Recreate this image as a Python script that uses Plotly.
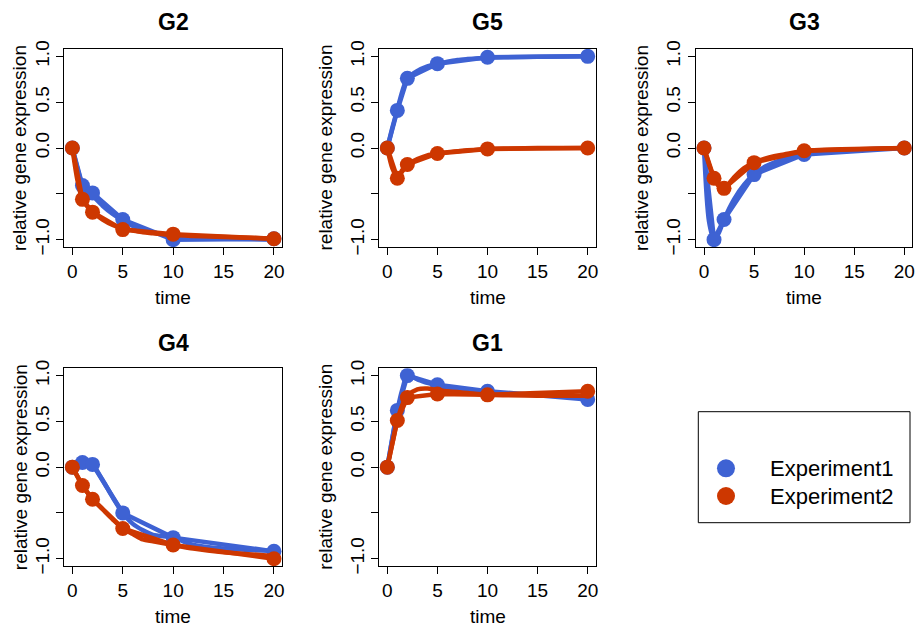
import plotly.graph_objects as go

# ---------------- data ----------------
time = [0, 1, 2, 5, 10, 20]
genes = ["G2", "G5", "G3", "G4", "G1"]
series_names = ["Experiment1", "Experiment2"]

g2_exp1 = [0.0, -0.41, -0.49, -0.78, -1.00, -0.99]
g2_exp2 = [0.0, -0.56, -0.70, -0.89, -0.94, -0.99]
g5_exp1 = [0.0, 0.41, 0.76, 0.92, 0.99, 1.00]
g5_exp2 = [0.0, -0.33, -0.18, -0.06, -0.01, 0.00]
g3_exp1 = [0.0, -1.00, -0.78, -0.29, -0.07, 0.00]
g3_exp2 = [0.0, -0.33, -0.44, -0.16, -0.03, 0.00]
g4_exp1 = [0.0, 0.05, 0.03, -0.50, -0.77, -0.92]
g4_exp2 = [0.0, -0.20, -0.35, -0.67, -0.85, -1.00]
g1_exp1 = [0.0, 0.62, 1.00, 0.90, 0.83, 0.74]
g1_exp2 = [0.0, 0.51, 0.76, 0.80, 0.79, 0.83]

# fitted (smooth) curves
fit_time = [0, 0.5, 1, 1.5, 2, 3, 4, 5, 6, 7, 8, 10, 12, 15, 20]
g2_fit1 = [0, -0.22, -0.40, -0.47, -0.52, -0.63, -0.72, -0.79, -0.85, -0.89, -0.92, -0.96, -0.98, -0.99, -1.00]
g2_fit2 = [0, -0.35, -0.56, -0.64, -0.70, -0.78, -0.84, -0.88, -0.90, -0.92, -0.93, -0.95, -0.96, -0.97, -0.99]
g5_fit1 = [0, 0.22, 0.42, 0.62, 0.76, 0.84, 0.89, 0.92, 0.94, 0.96, 0.97, 0.985, 0.99, 0.995, 1.00]
g5_fit2 = [0, -0.22, -0.32, -0.24, -0.18, -0.12, -0.08, -0.06, -0.045, -0.035, -0.025, -0.01, -0.005, 0, 0]
g3_fit1 = [0, -0.80, -1.00, -0.92, -0.78, -0.56, -0.40, -0.29, -0.21, -0.16, -0.12, -0.07, -0.04, -0.02, 0]
g3_fit2 = [0, -0.18, -0.33, -0.42, -0.44, -0.32, -0.22, -0.16, -0.12, -0.09, -0.07, -0.03, -0.02, -0.01, 0]
g4_fit1 = [0, 0.03, 0.05, 0.05, 0.03, -0.14, -0.33, -0.50, -0.62, -0.69, -0.74, -0.77, -0.85, -0.89, -0.915]
g4_fit2 = [0, -0.10, -0.20, -0.28, -0.35, -0.46, -0.57, -0.67, -0.73, -0.79, -0.81, -0.85, -0.89, -0.93, -0.97]
g1_fit1 = [0, 0.32, 0.62, 0.85, 1.00, 0.96, 0.92, 0.89, 0.86, 0.84, 0.83, 0.81, 0.80, 0.79, 0.77]
g1_fit2 = [0, 0.26, 0.51, 0.68, 0.78, 0.85, 0.86, 0.84, 0.83, 0.82, 0.81, 0.79, 0.785, 0.78, 0.78]

x_ticks = [0, 5, 10, 15, 20]
y_ticks = [-1.0, -0.5, 0.0, 0.5, 1.0]
y_tick_text = ["\u22121.0", "", "0.0", "0.5", "1.0"]

points = {
    "G2": (g2_exp1, g2_exp2), "G5": (g5_exp1, g5_exp2), "G3": (g3_exp1, g3_exp2),
    "G4": (g4_exp1, g4_exp2), "G1": (g1_exp1, g1_exp2),
}
fits = {
    "G2": (g2_fit1, g2_fit2), "G5": (g5_fit1, g5_fit2), "G3": (g3_fit1, g3_fit2),
    "G4": (g4_fit1, g4_fit2), "G1": (g1_fit1, g1_fit2),
}

# ---------------- style / layout ----------------
W, H = 916, 626
colors = ["#3E62D3", "#CD3700"]
FONT = "Liberation Sans, Arial, Helvetica, sans-serif"
col_px = [(64.3, 282.0), (379.3, 595.7), (696.0, 912.3)]
row_px = [(49.0, 247.0), (368.3, 566.0)]
ytitle_x = [20, 325.5, 642]
pos = {"G2": (0, 0), "G5": (0, 1), "G3": (0, 2), "G4": (1, 0), "G1": (1, 1)}

fig = go.Figure()
layout = dict(
    width=W, height=H, margin=dict(l=0, r=0, t=0, b=0, pad=0, autoexpand=False),
    paper_bgcolor="white", plot_bgcolor="white", showlegend=False,
    font=dict(family=FONT, size=19, color="black"),
)
annotations = []
shapes = []

for i, g in enumerate(genes):
    r, c = pos[g]
    n = i + 1
    xa = "x" if n == 1 else f"x{n}"
    ya = "y" if n == 1 else f"y{n}"
    x0, x1 = col_px[c]
    y0, y1 = row_px[r]
    axis_common = dict(showgrid=False, zeroline=False, showline=True, mirror=True,
                       linecolor="black", linewidth=1, ticks="outside", ticklen=7,
                       tickwidth=1, tickcolor="black", automargin=False,
                       tickfont=dict(family=FONT, size=19, color="black"))
    layout["xaxis" if n == 1 else f"xaxis{n}"] = dict(
        axis_common, domain=[x0 / W, x1 / W], range=[-0.8, 20.8],
        tickvals=x_ticks, ticktext=[str(v) for v in x_ticks],
        anchor=ya)
    layout["yaxis" if n == 1 else f"yaxis{n}"] = dict(
        axis_common, domain=[1 - y1 / H, 1 - y0 / H], range=[-1.08, 1.08],
        tickvals=y_ticks, ticktext=y_tick_text, tickangle=-90,
        anchor=xa)
    for k in range(2):
        col = colors[k]
        fig.add_trace(go.Scatter(x=fit_time, y=fits[g][k], mode="lines",
                                 line=dict(color=col, width=4.5, shape="spline", smoothing=0.8),
                                 xaxis=xa, yaxis=ya, hoverinfo="skip"))
        fig.add_trace(go.Scatter(x=time, y=points[g][k], mode="lines+markers",
                                 line=dict(color=col, width=4.5),
                                 marker=dict(color=col, size=15, line=dict(width=0)),
                                 name=series_names[k], xaxis=xa, yaxis=ya))
    cx = (x0 + x1) / 2
    title_y = 22.5 if r == 0 else 342.5
    annotations.append(dict(text=f"<b>{g}</b>", x=cx / W, y=1 - title_y / H, xref="paper", yref="paper",
                            showarrow=False, font=dict(family=FONT, size=23, color="black"),
                            xanchor="center", yanchor="middle"))
    annotations.append(dict(text="time", x=cx / W, y=1 - (y1 + 50) / H, xref="paper", yref="paper",
                            showarrow=False, font=dict(family=FONT, size=19, color="black"),
                            xanchor="center", yanchor="middle"))
    annotations.append(dict(text="relative gene expression", x=ytitle_x[c] / W, y=1 - ((y0 + y1) / 2) / H,
                            xref="paper", yref="paper", textangle=-90, showarrow=False,
                            font=dict(family=FONT, size=19, color="black"),
                            xanchor="center", yanchor="middle"))

# ---------------- legend (drawn manually, R style) ----------------
lx0, lx1, ly0, ly1 = 698.3, 910.0, 411.7, 522.7
shapes.append(dict(type="rect", xref="paper", yref="paper",
                   x0=lx0 / W, x1=lx1 / W, y0=1 - ly1 / H, y1=1 - ly0 / H,
                   line=dict(color="black", width=1), fillcolor="rgba(0,0,0,0)"))
leg_rows = [468.3, 496.0]
layout["xaxis6"] = dict(domain=[lx0 / W, lx1 / W], range=[lx0, lx1], visible=False,
                        anchor="y6", automargin=False)
layout["yaxis6"] = dict(domain=[1 - ly1 / H, 1 - ly0 / H], range=[ly1, ly0], visible=False,
                        anchor="x6", automargin=False)
for k in range(2):
    fig.add_trace(go.Scatter(x=[726.0], y=[leg_rows[k]], mode="markers",
                             marker=dict(color=colors[k], size=18, line=dict(width=0)),
                             xaxis="x6", yaxis="y6", hoverinfo="skip"))
    annotations.append(dict(text=series_names[k], x=768.0, y=leg_rows[k], xref="x6", yref="y6",
                            showarrow=False, font=dict(family=FONT, size=22, color="black"),
                            xanchor="left", yanchor="middle"))

layout["annotations"] = annotations
layout["shapes"] = shapes
fig.update_layout(**layout)
fig.write_html(
    "out.html",
    config={"displayModeBar": False},
    post_script="document.body.style.margin='0px';document.body.style.padding='0px';"
                "document.body.style.overflow='hidden';"
                "document.documentElement.style.overflow='hidden';",
)
